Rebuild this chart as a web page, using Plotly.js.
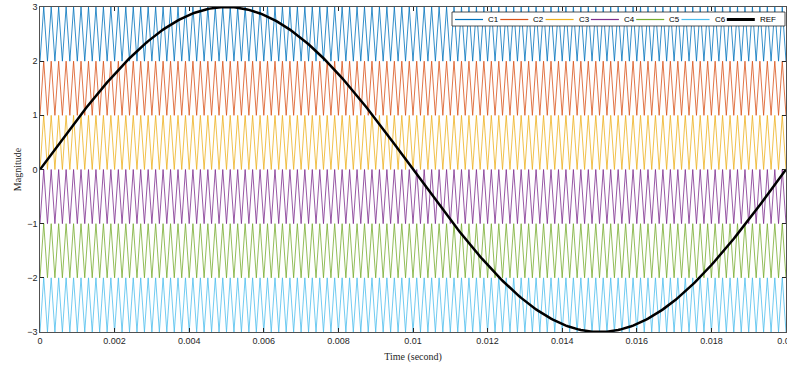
<!DOCTYPE html>
<html><head><meta charset="utf-8">
<script src="https://cdn.plot.ly/plotly-3.0.1.min.js"></script>
<style>html,body{margin:0;padding:0;background:#fff}#plot{width:787px;height:367px}</style>
</head><body><div id="plot"></div>
<script>
// Chart parameters
var carrierNames = ["C1","C2","C3","C4","C5","C6"];
var carrierLower = [2, 1, 0, -1, -2, -3];   // bottom of each carrier band
var carrierUpper = [3, 2, 1, 0, -1, -2];    // top of each carrier band
var carrierColors = ["#0072BD","#D95319","#EDB120","#7E2F8E","#77AC30","#4DBEEE"];
var carrierFreq = 5000;     // Hz
var refName = "REF";
var refAmp = 3;             // peak of reference
var refFreq = 50;           // Hz
var tEnd = 0.02;            // seconds
var xTickVals = [0,0.002,0.004,0.006,0.008,0.01,0.012,0.014,0.016,0.018,0.02];
var xTickText = ["0","0.002","0.004","0.006","0.008","0.01","0.012","0.014","0.016","0.018","0.02"];
var yTickVals = [-3,-2,-1,0,1,2,3];

var traces = [];
var nHalf = Math.round(2*carrierFreq*tEnd);
for (var c=0;c<carrierNames.length;c++){
  var xs=[], ys=[];
  for (var k=0;k<=nHalf;k++){
    xs.push(k/(2*carrierFreq));
    ys.push(k%2===0 ? carrierLower[c] : carrierUpper[c]);
  }
  traces.push({x:xs,y:ys,type:"scatter",mode:"lines",name:carrierNames[c],showlegend:false,
    line:{color:carrierColors[c],width:0.8}});
}
var rx=[], ry=[], N=400;
for (var i=0;i<=N;i++){ var t=tEnd*i/N; rx.push(t); ry.push(refAmp*Math.sin(2*Math.PI*refFreq*t)); }
traces.push({x:rx,y:ry,type:"scatter",mode:"lines",name:refName,showlegend:false,line:{color:"#000000",width:2.5}});

// Legend box drawn on a hidden overlay axis pair measured in page pixels
var W=787,H=367,ml=40,mr=1,mt=7,mb=35;
var legNames = carrierNames.concat([refName]);
var legColors = carrierColors.concat(["#000000"]);
var legWidths = [1.2,1.2,1.2,1.2,1.2,1.2,3];
var box = {x0:452, x1:785, y0:12, y1:26};
traces.push({x:[box.x0,box.x1,box.x1,box.x0,box.x0], y:[box.y0,box.y0,box.y1,box.y1,box.y0],
  xaxis:"x2", yaxis:"y2", type:"scatter", mode:"lines", fill:"toself", fillcolor:"#ffffff",
  line:{color:"#262626",width:0.8}, showlegend:false, hoverinfo:"skip"});
var annotations=[];
var startX=455, step=45.3, ly=19.5;
for (var j=0;j<legNames.length;j++){
  var x0=startX+j*step;
  traces.push({x:[x0,x0+28], y:[ly,ly], xaxis:"x2", yaxis:"y2", type:"scatter", mode:"lines",
    line:{color:legColors[j],width:legWidths[j]}, showlegend:false, hoverinfo:"skip"});
  annotations.push({xref:"x2",yref:"y2",x:x0+31,y:ly,xanchor:"left",yanchor:"middle",
    text:legNames[j],showarrow:false,font:{family:"Liberation Sans, Arial, sans-serif",size:8,color:"#000"}});
}

var axisCommon = {showgrid:false, zeroline:false, showline:true, mirror:"ticks", linecolor:"#262626",
  linewidth:0.8, ticks:"inside", ticklen:4, tickcolor:"#262626", ticklabeloverflow:"allow",
  tickfont:{family:"Liberation Sans, Arial, sans-serif", size:9, color:"#262626"}};
var layout = {
  width:W, height:H, margin:{l:ml,r:mr,t:mt,b:mb},
  paper_bgcolor:"#fff", plot_bgcolor:"#fff", showlegend:false,
  xaxis:Object.assign({}, axisCommon, {range:[0,tEnd], tickvals:xTickVals, ticktext:xTickText,
    title:{text:"Time (second)", font:{family:"Liberation Serif, Times New Roman, serif", size:10, color:"#262626"}, standoff:8}}),
  yaxis:Object.assign({}, axisCommon, {range:[-3,3], tickvals:yTickVals,
    title:{text:"Magnitude", font:{family:"Liberation Serif, Times New Roman, serif", size:10, color:"#262626"}, standoff:3}}),
  xaxis2:{overlaying:"x", anchor:"y2", range:[ml, W-mr], visible:false, fixedrange:true},
  yaxis2:{overlaying:"y", anchor:"x2", range:[H-mb, mt], visible:false, fixedrange:true},
  annotations:annotations
};
Plotly.newPlot("plot", traces, layout, {staticPlot:true, displayModeBar:false});
</script></body></html>
